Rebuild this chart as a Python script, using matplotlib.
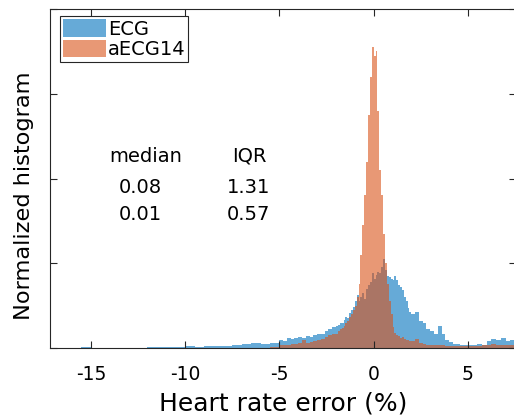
import numpy as np
import matplotlib
matplotlib.use("Agg")
import matplotlib.pyplot as plt

plt.rcParams['font.family'] = ['DejaVu Sans']

# bin edges (variable widths: coarse in tails, fine near zero)
edges = np.concatenate([
    np.arange(-17.5, -5.0, 0.5),
    np.arange(-5.0, -2.0 - 1e-9, 0.2),
    np.arange(-2.0, 2.0 - 1e-9, 0.1),
    np.arange(2.0, 5.0 - 1e-9, 0.2),
    np.arange(5.0, 7.5 + 1e-9, 0.25),
])

ecg = (
    [0, 0.002, 0.003, 0.005, 0.012, 0.004, 0.004, 0.003, 0.004, 0.003,
     0.005, 0.006, 0.01, 0.012, 0.015, 0.018, 0.015, 0.02, 0.02, 0.025,
     0.04, 0.045, 0.06, 0.05, 0.06]
    + [0.1, 0.08, 0.12, 0.11, 0.12, 0.13, 0.12, 0.14, 0.13, 0.15,
       0.17, 0.17, 0.2, 0.22, 0.25]
    + [0.26, 0.27, 0.3, 0.29, 0.33, 0.36, 0.35, 0.41, 0.45, 0.48,
       0.55, 0.62, 0.56, 0.6, 0.65, 0.58, 0.70, 0.74, 0.78, 0.88,
       0.82, 0.86, 0.9, 0.88, 0.95, 1.05, 0.92, 0.85, 0.84, 0.82,
       0.8, 0.85, 0.8, 0.74, 0.72, 0.68, 0.6, 0.55, 0.47, 0.42]
    + [0.4, 0.43, 0.32, 0.3, 0.22, 0.2, 0.17, 0.26, 0.16, 0.1,
       0.07, 0.05, 0.05, 0.04, 0.04]
    + [0.04, 0.04, 0.05, 0.04, 0.08, 0.11, 0.09, 0.12, 0.08, 0.1]
)

aecg14 = (
    [0, 0, 0, 0, 0, 0, 0, 0, 0, 0,
     0, 0, 0, 0, 0, 0, 0, 0, 0, 0,
     0, 0, 0, 0.005, 0.01]
    + [0.03, 0.04, 0.04, 0.05, 0.05, 0.06, 0.1, 0.06, 0.07, 0.08,
       0.09, 0.11, 0.13, 0.15, 0.16]
    + [0.17, 0.2, 0.22, 0.24, 0.26, 0.3, 0.32, 0.36, 0.4, 0.45,
       0.5, 0.6, 0.75, 1.1, 1.45, 1.8, 2.2, 2.75, 3.2, 3.55,
       3.45, 3.5, 2.8, 2.1, 1.8, 1.35, 1.0, 0.75, 0.55, 0.4,
       0.25, 0.18, 0.15, 0.14, 0.12, 0.13, 0.11, 0.1, 0.09, 0.08]
    + [0.08, 0.11, 0.06, 0.05, 0.04, 0.04, 0.03, 0.03, 0.03, 0.02,
       0.02, 0.02, 0.02, 0.02, 0.02]
    + [0.02, 0.02, 0.02, 0.03, 0.03, 0.05, 0.04, 0.03, 0.04, 0.03]
)

series_labels = ['ECG', 'aECG14']
stats_header = ['median', 'IQR']
stats_rows = [['0.08', '1.31'], ['0.01', '0.57']]
xticks = [-15, -10, -5, 0, 5]

blue = (0.0, 0.447, 0.741)
orange = (0.85, 0.325, 0.098)

fig = plt.figure(figsize=(5.14, 4.16), dpi=100)
ax = fig.add_axes([50 / 514, 1 - 348 / 416, 466 / 514, 339 / 416])

ax.stairs(ecg, edges, fill=True, color=blue, alpha=0.6, lw=0, label=series_labels[0])
ax.stairs(aecg14, edges, fill=True, color=orange, alpha=0.6, lw=0, label=series_labels[1])

ax.set_xlim(-17.17, 7.55)
ax.set_ylim(0, 4)
ax.set_xticks(xticks)
ax.set_xticklabels([str(t) for t in xticks])
ax.set_yticks([0, 1, 2, 3, 4])
ax.set_yticklabels([])
ax.tick_params(direction='in', length=5, width=0.8, top=True, right=True,
               labelsize=13.5, colors='0.15', labelcolor='black', pad=12)
for s in ax.spines.values():
    s.set_color('0.15')
    s.set_linewidth(0.8)

ax.set_xlabel('Heart rate error (%)', fontsize=18)
ax.set_ylabel('Normalized histogram', fontsize=16.2)
ax.xaxis.set_label_coords(0.5, -0.127)
ax.yaxis.set_label_coords(-0.0337, 0.448)

# stats text
head_x = [-12.08, -6.62]
val_x = [-12.40, -6.62]
row_y = [2.198, 1.825, 1.51]
for j, h in enumerate(stats_header):
    ax.text(head_x[j], row_y[0], h, ha='center', va='baseline', fontsize=14)
for i, row in enumerate(stats_rows):
    for j, v in enumerate(row):
        ax.text(val_x[j], row_y[i + 1], v, ha='center', va='baseline', fontsize=14)

leg = ax.legend(loc='upper left', bbox_to_anchor=(0.0215, 0.978), borderaxespad=0,
                fontsize=14, handlelength=2.2, handleheight=0.98, labelspacing=0.07,
                borderpad=0.15, handletextpad=0.1, fancybox=False, framealpha=1,
                edgecolor='0.15')
leg.get_frame().set_linewidth(0.8)

fig.savefig('out.png', dpi=100)
